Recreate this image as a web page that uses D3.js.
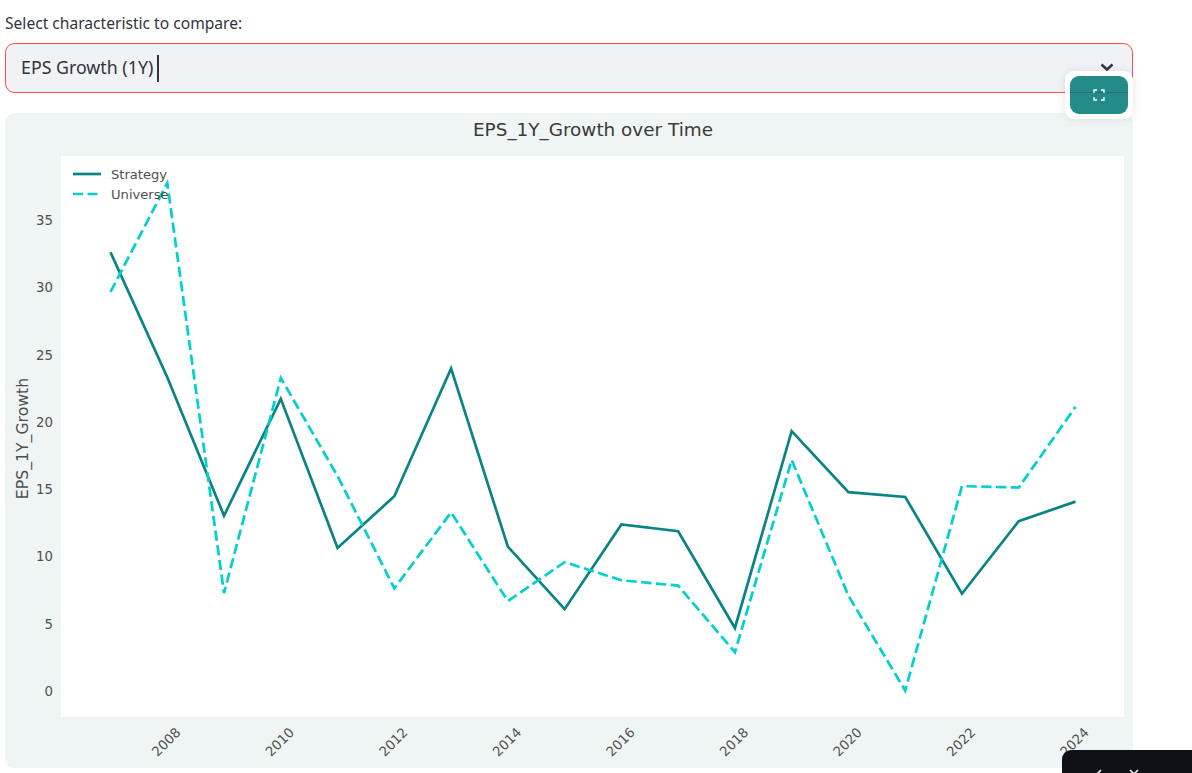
<!DOCTYPE html>
<html>
<head>
<meta charset="utf-8">
<title>EPS_1Y_Growth over Time</title>
<script src="https://cdn.jsdelivr.net/npm/d3@7"></script>
<style>
  html, body { margin: 0; padding: 0; background: #fff; overflow: hidden; }
  svg { display: block; }
  .ui { font-family: "Noto Sans", sans-serif; fill: #31333f; }
  .chart-text { font-family: "DejaVu Sans", sans-serif; }
</style>
</head>
<body>
<div id="container"></div>
<script>
const years = [2007, 2008, 2009, 2010, 2011, 2012, 2013, 2014, 2015, 2016, 2017, 2018, 2019, 2020, 2021, 2022, 2023, 2024]
const strategy = [32.6, 23.3, 13.0, 21.7, 10.6, 14.45, 23.95, 10.7, 6.05, 12.35, 11.85, 4.65, 19.3, 14.75, 14.4, 7.2, 12.6, 14.05]
const universe = [29.65, 37.75, 7.25, 23.25, 15.95, 7.6, 13.25, 6.65, 9.55, 8.2, 7.8, 2.85, 17.15, 7.05, 0.0, 15.2, 15.1, 21.1]
const xTicks = [2008, 2010, 2012, 2014, 2016, 2018, 2020, 2022, 2024]
const yTicks = [0, 5, 10, 15, 20, 25, 30, 35]

const width = 1192
const height = 773

// plot area
const plotLeft = 61
const plotRight = 1124
const plotTop = 156
const plotBottom = 717

const strategyColor = '#088583'
const universeColor = '#00d1cb'
const textColor = '#505050'

const x = d3.scaleLinear().domain([2007, 2024]).range([110.5, 1075.5])
const y = d3.scaleLinear().domain([0, 35]).range([690.5, 220])

const svg = d3.select('#container').append('svg')
    .attr('width', width)
    .attr('height', height)

// shadow for the little fullscreen button
const defs = svg.append('defs')
const blur = defs.append('filter').attr('id', 'soft')
    .attr('x', '-30%').attr('y', '-30%').attr('width', '160%').attr('height', '160%')
blur.append('feDropShadow')
    .attr('dx', 0).attr('dy', 0).attr('stdDeviation', 4)
    .attr('flood-color', '#000').attr('flood-opacity', 0.1)

// ---------- select box -------------------------------
svg.append('text')
    .attr('class', 'ui')
    .attr('x', 5).attr('y', 29)
    .style('font-size', '15.6px')
    .text('Select characteristic to compare:')

svg.append('rect')
    .attr('x', 5.5).attr('y', 43.5)
    .attr('width', 1127).attr('height', 49)
    .attr('rx', 9)
    .attr('fill', '#f0f2f6')
    .attr('stroke', '#ff4b4b')

svg.append('text')
    .attr('class', 'ui')
    .attr('x', 21).attr('y', 73.5)
    .style('font-size', '17.8px')
    .text('EPS Growth (1Y)')

// text cursor
svg.append('rect')
    .attr('x', 157).attr('y', 55).attr('width', 2).attr('height', 27)
    .attr('fill', '#31333f')

// dropdown chevron
svg.append('path')
    .attr('d', 'M1101.5 64.5 L1107 69.5 L1112.5 64.5')
    .attr('fill', 'none')
    .attr('stroke', '#31333f')
    .attr('stroke-width', 2.5)

// ---------- chart card -------------------------------
svg.append('rect')
    .attr('x', 5).attr('y', 113)
    .attr('width', 1128).attr('height', 655)
    .attr('rx', 9)
    .attr('fill', '#eff5f5')

svg.append('rect')
    .attr('x', plotLeft).attr('y', plotTop)
    .attr('width', plotRight - plotLeft).attr('height', plotBottom - plotTop)
    .attr('fill', '#fff')

svg.append('text')
    .attr('class', 'chart-text')
    .attr('x', 593).attr('y', 136)
    .attr('text-anchor', 'middle')
    .attr('fill', '#3a3a3a')
    .style('font-size', '18.4px')
    .text('EPS_1Y_Growth over Time')

svg.append('text')
    .attr('class', 'chart-text')
    .attr('transform', 'translate(28, 438.5)rotate(-90)')
    .attr('text-anchor', 'middle')
    .attr('fill', textColor)
    .style('font-size', '15.7px')
    .text('EPS_1Y_Growth')

// y axis, no lines, only the numbers
const leftAxis = svg.append('g')
    .attr('transform', `translate(${plotLeft},0.5)`)
    .call(d3.axisLeft(y).tickValues(yTicks).tickSize(0).tickPadding(8))
leftAxis.select('.domain').remove()
leftAxis.selectAll('text')
    .attr('class', 'chart-text')
    .attr('fill', textColor)
    .style('font-size', '13.3px')

// x axis labels are rotated
const bottomAxis = svg.append('g')
    .attr('transform', `translate(-1.5,${plotBottom})`)
    .call(d3.axisBottom(x).tickValues(xTicks).tickFormat(d3.format('d')).tickSize(0))
bottomAxis.select('.domain').remove()
bottomAxis.selectAll('text')
    .attr('class', 'chart-text')
    .attr('fill', textColor)
    .attr('y', 0)
    .attr('dy', '0.35em')
    .attr('text-anchor', 'middle')
    .attr('transform', 'translate(0, 25)rotate(-45)')
    .style('font-size', '13.3px')

// ---------- lines -------------------------------
const line = d3.line()
    .x((d, i) => x(years[i]))
    .y(d => y(d))

svg.append('path')
    .datum(strategy)
    .attr('d', line)
    .attr('fill', 'none')
    .attr('stroke', strategyColor)
    .attr('stroke-width', 2.7)

svg.append('path')
    .datum(universe)
    .attr('d', line)
    .attr('fill', 'none')
    .attr('stroke', universeColor)
    .attr('stroke-width', 2.7)
    .attr('stroke-dasharray', '10.3 4.5')

// ---------- legend -------------------------------
const legendItems = [
  { label: 'Strategy', color: strategyColor, dash: null, yPos: 174 },
  { label: 'Universe', color: universeColor, dash: '10 4.5', yPos: 194 }
]
const legend = svg.append('g')
legend.selectAll('line')
    .data(legendItems)
    .enter()
    .append('line')
    .attr('x1', 73).attr('x2', 101)
    .attr('y1', d => d.yPos).attr('y2', d => d.yPos)
    .attr('stroke', d => d.color)
    .attr('stroke-width', 2.7)
    .attr('stroke-dasharray', d => d.dash)
legend.selectAll('text')
    .data(legendItems)
    .enter()
    .append('text')
    .attr('class', 'chart-text')
    .attr('x', 111)
    .attr('y', d => d.yPos + 4.5)
    .attr('fill', textColor)
    .style('font-size', '13.1px')
    .text(d => d.label)

// ---------- fullscreen button -------------------------------
svg.append('rect')
    .attr('x', 1065).attr('y', 71)
    .attr('width', 68).attr('height', 48)
    .attr('rx', 9)
    .attr('fill', '#fff')
    .attr('filter', 'url(#soft)')

svg.append('rect')
    .attr('x', 1070).attr('y', 76)
    .attr('width', 58).attr('height', 38)
    .attr('rx', 9)
    .attr('fill', '#248c88')

// the select border shows through the button
svg.append('line')
    .attr('x1', 1070).attr('x2', 1128)
    .attr('y1', 92.5).attr('y2', 92.5)
    .attr('stroke', '#2a6f6e')

svg.append('path')
    .attr('d', 'M1094 93 v-3 h3 M1101 90 h3 v3 M1104 97 v3 h-3 M1097 100 h-3 v-3')
    .attr('fill', 'none')
    .attr('stroke', '#fff')
    .attr('stroke-width', 1.3)

// ---------- dark bar cut off at the bottom -------------------------------
svg.append('rect')
    .attr('x', 1062).attr('y', 750)
    .attr('width', 150).attr('height', 40)
    .attr('rx', 9)
    .attr('fill', '#0f1117')

svg.append('path')
    .attr('d', 'M1097 774 L1101 770 M1130 770 L1134 774 M1138 770 L1134 774')
    .attr('fill', 'none')
    .attr('stroke', '#fff')
    .attr('stroke-width', 1.5)
</script>
</body>
</html>
